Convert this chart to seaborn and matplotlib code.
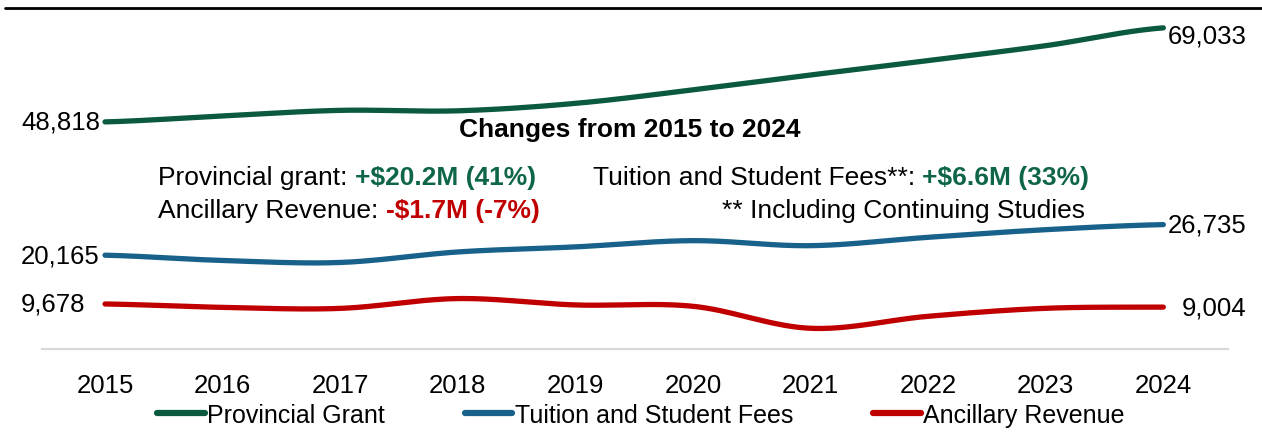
import numpy as np
import pandas as pd
import matplotlib
matplotlib.use("Agg")
import matplotlib.pyplot as plt
import seaborn as sns

years = [2015, 2016, 2017, 2018, 2019, 2020, 2021, 2022, 2023, 2024]
provincial = [48818, 50100, 51300, 51200, 52800, 55700, 58900, 62000, 65200, 69033]
tuition = [20165, 19030, 18600, 20860, 21950, 23290, 22210, 24010, 25650, 26735]
ancillary = [9678, 8950, 8730, 10840, 9470, 9180, 4450, 7030, 8750, 9004]

series_names = ["Provincial Grant", "Tuition and Student Fees", "Ancillary Revenue"]
colors = ["#0b5a3f", "#17618a", "#c00000"]

W, H = 1262, 435


def smooth(vals, n=30):
    # catmull-rom style curve, like excel's "smoothed line"
    p = np.array(vals, dtype=float)
    p = np.concatenate([[p[0]], p, [p[-1]]])
    xs, ys = [], []
    for i in range(1, len(p) - 2):
        t = np.linspace(0, 1, n, endpoint=False)
        p0, p1, p2, p3 = p[i - 1], p[i], p[i + 1], p[i + 2]
        y = 0.5 * ((2 * p1) + (-p0 + p2) * t + (2 * p0 - 5 * p1 + 4 * p2 - p3) * t ** 2
                   + (-p0 + 3 * p1 - 3 * p2 + p3) * t ** 3)
        xs.extend(i - 1 + t)
        ys.extend(y)
    xs.append(len(vals) - 1)
    ys.append(vals[-1])
    return np.array(xs), np.array(ys)


frames = []
for name, vals in zip(series_names, [provincial, tuition, ancillary]):
    sx, sy = smooth(vals)
    frames.append(pd.DataFrame({"x": sx, "value": sy, "series": name}))
df = pd.concat(frames, ignore_index=True)

sns.set_style("white")
plt.rcParams["font.family"] = ["Liberation Sans", "DejaVu Sans"]
plt.rcParams["text.color"] = "black"
plt.rcParams["xtick.color"] = "black"
narrow = ["Liberation Sans Narrow", "Liberation Sans", "DejaVu Sans"]
num_size = 18.5
note_size = 19

fig = plt.figure(figsize=(W / 100, H / 100), dpi=100)
ax = fig.add_axes([42 / W, 1 - 350 / H, (1228 - 42) / W, (350 - 9) / H])

sns.lineplot(data=df, x="x", y="value", hue="series", palette=colors,
             hue_order=series_names, linewidth=3.8, ax=ax, legend=False,
             estimator=None, sort=False)
for ln in ax.lines:
    ln.set_solid_capstyle("round")

ax.set_xlim(-0.536, 9.55)
ax.set_ylim(0, 73300)
ax.set_xticks(range(len(years)))
ax.set_xticklabels(years, fontfamily=narrow, fontsize=num_size)
ax.set_yticks([])
ax.set_xlabel("")
ax.set_ylabel("")
ax.tick_params(axis="x", length=0, pad=17)
for s in ["top", "left", "right"]:
    ax.spines[s].set_visible(False)
ax.spines["bottom"].set_color("#d9d9d9")
ax.spines["bottom"].set_linewidth(1.6)

# top black rule
fig.add_artist(plt.Line2D([5 / W, 1.0], [1 - 9 / H, 1 - 9 / H], color="black", linewidth=2))

# end labels
for i, vals in enumerate([provincial, tuition, ancillary]):
    ax.annotate(f"{vals[0]:,}", xy=(0, vals[0]), xytext=(-84, 0), textcoords="offset pixels",
                ha="left", va="center", fontsize=num_size, fontfamily=narrow, annotation_clip=False)
    dy = -8 if i == 0 else 0
    ax.annotate(f"{vals[-1]:,}", xy=(9, vals[-1]), xytext=(83, dy), textcoords="offset pixels",
                ha="right", va="center", fontsize=num_size, fontfamily=narrow, annotation_clip=False)

# change summary box
green_txt = "#0e6647"
red_txt = "#c00000"
fig.text(630 / W, 1 - 130 / H, "Changes from 2015 to 2024", ha="center", va="center",
         fontsize=note_size, fontweight="bold")


def text_run(x, y, parts):
    t = fig.text(x / W, 1 - y / H, parts[0][0], color=parts[0][1], fontweight=parts[0][2],
                 fontsize=note_size, ha="left", va="center")
    for s, c, w in parts[1:]:
        t = ax.annotate(s, xy=(1, 0.5), xycoords=t, ha="left", va="center",
                        color=c, fontweight=w, fontsize=note_size)
    return t


text_run(158, 178, [("Provincial grant: ", "black", "normal"), ("+$20.2M (41%)", green_txt, "bold")])
text_run(593, 178, [("Tuition and Student Fees**: ", "black", "normal"), ("+$6.6M (33%)", green_txt, "bold")])
text_run(158, 211, [("Ancillary Revenue: ", "black", "normal"), ("-$1.7M (-7%)", red_txt, "bold")])
fig.text(1085 / W, 1 - 211 / H, "** Including Continuing Studies", ha="right", va="center",
         fontsize=note_size)

handles = [plt.Line2D([], [], color=c, linewidth=4.5, solid_capstyle="round") for c in colors]
fig.legend(handles, series_names, loc="center", bbox_to_anchor=(641 / W, 1 - 416 / H),
           ncol=3, frameon=False, handlelength=1.9, handletextpad=0.1, columnspacing=3.2,
           prop={"family": narrow, "size": 18})

fig.savefig("out.png", dpi=100)
